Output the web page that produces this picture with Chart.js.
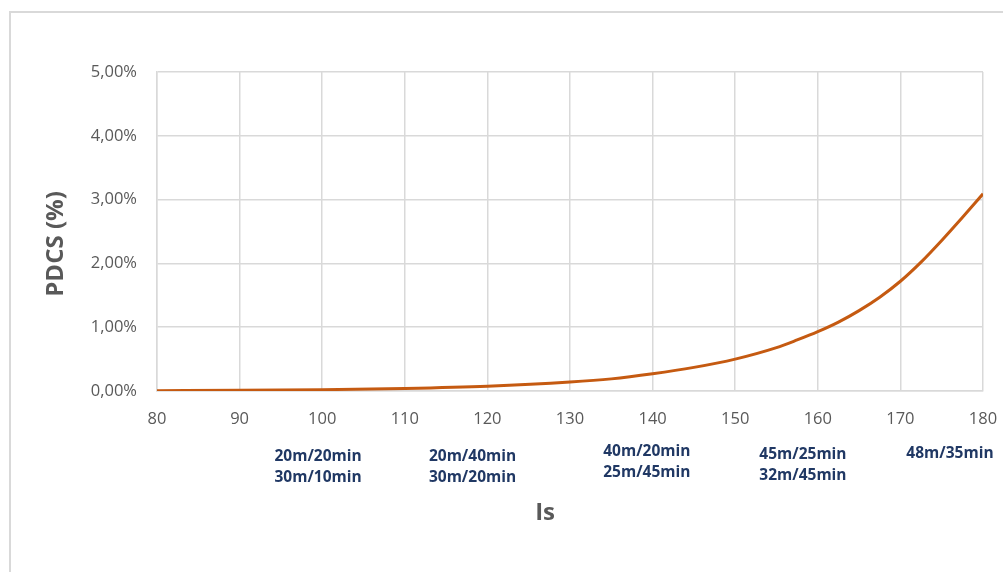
<!DOCTYPE html>
<html>
<head>
<meta charset="utf-8">
<script src="https://cdn.jsdelivr.net/npm/chart.js@4.4.1/dist/chart.umd.min.js"></script>
<style>
html,body{margin:0;padding:0;background:#fff;}
#wrap{position:relative;width:1003px;height:572px;}
</style>
</head>
<body>
<div id="wrap"><canvas id="c" width="1003" height="572"></canvas></div>
<script>
// Data
const xValues = [80, 90, 100, 110, 120, 130, 135, 140, 145, 150, 155, 157.5, 160, 162.5, 165, 167.5, 170, 172.5, 175, 177.5, 180];
const pdcsValues = [0.005, 0.01, 0.02, 0.04, 0.075, 0.14, 0.19, 0.27, 0.37, 0.5, 0.68, 0.8, 0.93, 1.08, 1.26, 1.47, 1.72, 2.02, 2.36, 2.72, 3.09];
const annotationAnchors = [99.5, 118.2, 139.3, 158.2, 176];
const annotationLines = [
  ["20m/20min", "30m/10min"],
  ["20m/40min", "30m/20min"],
  ["40m/20min", "25m/45min"],
  ["45m/25min", "32m/45min"],
  ["48m/35min"]
];
const annotationRowOffset = [66, 66, 61, 64, 63];
const xTitle = "Is" + "\u00A0".repeat(8);
const yTitle = "PDCS (%)" + "\u00A0".repeat(4);

const points = xValues.map((x, i) => ({x: x, y: pdcsValues[i]}));

const framePlugin = {
  id: 'frame',
  beforeDraw(chart) {
    const ctx = chart.ctx;
    ctx.save();
    ctx.fillStyle = '#fff';
    ctx.fillRect(0, 0, chart.width, chart.height);
    ctx.strokeStyle = '#d9d9d9';
    ctx.lineWidth = 2;
    ctx.strokeRect(10, 12, chart.width + 50, chart.height + 50);
    ctx.restore();
  }
};

const annotationPlugin = {
  id: 'annot',
  afterDraw(chart) {
    const ctx = chart.ctx;
    const xs = chart.scales.x;
    const base = chart.chartArea.bottom;
    ctx.save();
    ctx.fillStyle = '#203864';
    ctx.font = 'bold 15.5px "Open Sans"';
    ctx.textAlign = 'center';
    ctx.textBaseline = 'middle';
    annotationAnchors.forEach((a, i) => {
      const px = xs.getPixelForValue(a);
      annotationLines[i].forEach((t, j) => {
        ctx.fillText(t, px, base + annotationRowOffset[i] + j * 21);
      });
    });
    ctx.restore();
  }
};

new Chart(document.getElementById('c'), {
  type: 'scatter',
  data: {
    datasets: [{
      data: points,
      showLine: true,
      borderColor: '#c55a11',
      backgroundColor: '#c55a11',
      borderWidth: 3,
      pointRadius: 0,
      cubicInterpolationMode: 'monotone'
    }]
  },
  options: {
    responsive: false,
    animation: false,
    devicePixelRatio: 1,
    layout: {padding: {left: 38, right: 20, top: 72, bottom: 40}},
    plugins: {legend: {display: false}, tooltip: {enabled: false}},
    scales: {
      x: {
        type: 'linear',
        min: 80, max: 180,
        ticks: {stepSize: 10, color: '#595959', font: {family: 'Open Sans', size: 16.5}, padding: 18, maxRotation: 0},
        grid: {color: '#d9d9d9', lineWidth: 1.5, drawTicks: false},
        border: {color: '#d9d9d9', width: 1.5},
        title: {display: true, text: xTitle, color: '#595959', font: {family: 'Open Sans', size: 24, weight: 'bold'}},
        afterFit(s) { s.height = 141; s.paddingRight = 14; s.paddingLeft = 14; }
      },
      y: {
        min: 0, max: 5,
        ticks: {stepSize: 1, color: '#595959', font: {family: 'Open Sans', size: 16.5}, padding: 20,
          callback: v => v.toFixed(2).replace('.', ',') + '%'},
        grid: {color: '#d9d9d9', lineWidth: 1.5, drawTicks: false},
        border: {color: '#d9d9d9', width: 1.5},
        title: {display: true, text: yTitle, color: '#595959', font: {family: 'Open Sans', size: 24, weight: 'bold'}},
        afterFit(s) { s.width = 119; }
      }
    }
  },
  plugins: [framePlugin, annotationPlugin]
});
</script>
</body>
</html>
